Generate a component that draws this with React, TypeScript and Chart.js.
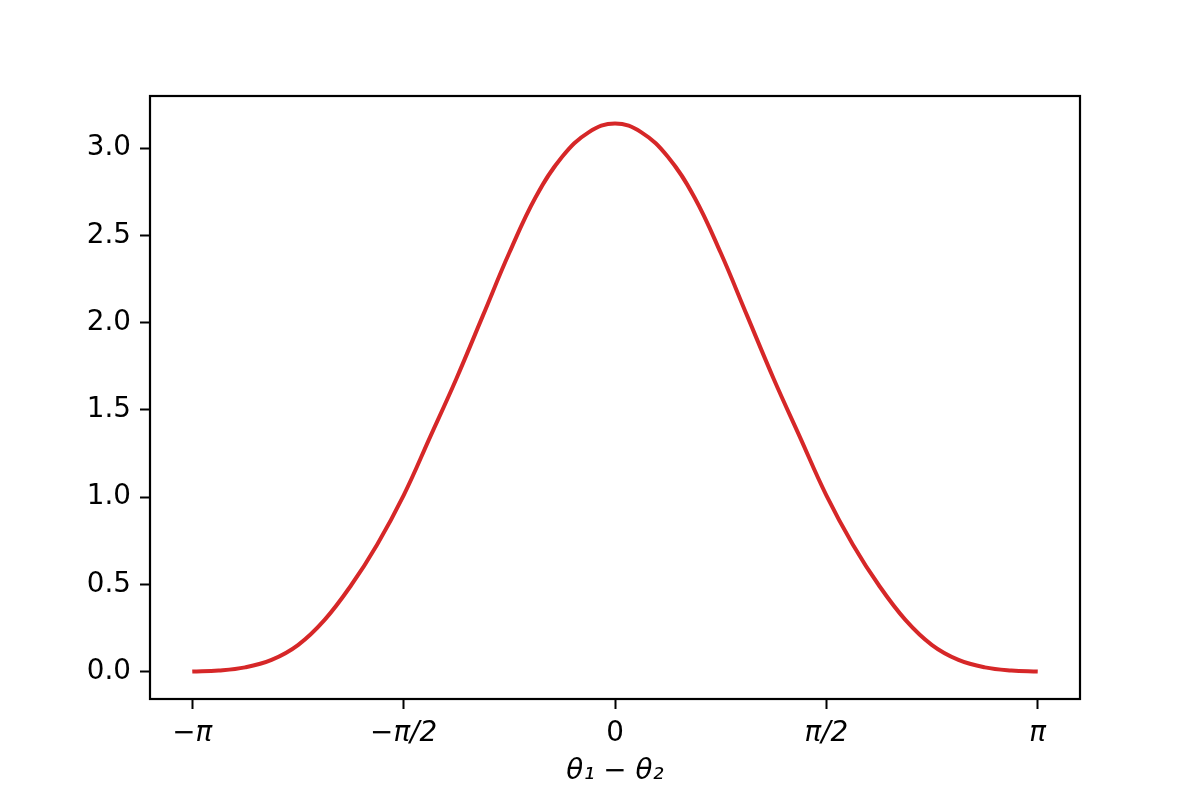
import React, { useEffect, useRef } from "react";
import { Chart, registerables } from "chart.js";

Chart.register(...registerables);

// Sample positions (radians) along θ1 − θ2
const xValues = [
  -3.1416, -2.9452, -2.7489, -2.5525, -2.3562, -2.1598, -1.9635, -1.7671,
  -1.5708, -1.3744, -1.1781, -0.9817, -0.7854, -0.589, -0.3927, -0.1963,
  0,
  0.1963, 0.3927, 0.589, 0.7854, 0.9817, 1.1781, 1.3744, 1.5708,
  1.7671, 1.9635, 2.1598, 2.3562, 2.5525, 2.7489, 2.9452, 3.1416,
];

// Curve values
const yValues = [
  0.0, 0.006, 0.024, 0.067, 0.152, 0.295, 0.492, 0.729,
  1.01, 1.344, 1.68, 2.04, 2.4, 2.72, 2.95, 3.09,
  3.1416,
  3.09, 2.95, 2.72, 2.4, 2.04, 1.68, 1.344, 1.01,
  0.729, 0.492, 0.295, 0.152, 0.067, 0.024, 0.006, 0.0,
];

const xTickValues = [-3.14159, -1.5708, 0, 1.5708, 3.14159];
const xTickLabels = ["−π", "−π/2", "0", "π/2", "π"];
const yTickValues = [0, 0.5, 1, 1.5, 2, 2.5, 3];
const yTickLabels = ["0.0", "0.5", "1.0", "1.5", "2.0", "2.5", "3.0"];
const xAxisTitle = "θ₁ − θ₂";

const FONT = "'DejaVu Sans', sans-serif";
const FONT_SIZE = 27.8;
const RED = "#d62728";

const framePlugin = {
  id: "frame",
  afterDraw(chart: any) {
    const { ctx, chartArea } = chart;
    ctx.save();
    ctx.strokeStyle = "#000";
    ctx.lineWidth = 2.2;
    ctx.strokeRect(
      chartArea.left,
      chartArea.top,
      chartArea.right - chartArea.left,
      chartArea.bottom - chartArea.top
    );
    ctx.restore();
  },
};

export default function App() {
  const canvasRef = useRef<HTMLCanvasElement | null>(null);

  useEffect(() => {
    const canvas = canvasRef.current;
    if (!canvas) return;
    const points = xValues.map((x, i) => ({ x, y: yValues[i] }));
    const chart = new Chart(canvas, {
      type: "line",
      data: {
        datasets: [
          {
            data: points,
            borderColor: RED,
            backgroundColor: RED,
            borderWidth: 4,
            pointRadius: 0,
            tension: 0.4,
            fill: false,
          },
        ],
      },
      plugins: [framePlugin],
      options: {
        responsive: false,
        animation: false,
        devicePixelRatio: 1,
        layout: { padding: { left: 0, top: 96, right: 120, bottom: 0 } },
        plugins: {
          legend: { display: false },
          tooltip: { enabled: false },
        },
        scales: {
          x: {
            type: "linear",
            min: -1.1 * Math.PI,
            max: 1.1 * Math.PI,
            afterBuildTicks: (scale: any) => {
              scale.ticks = xTickValues.map((v) => ({ value: v }));
            },
            afterFit: (scale: any) => {
              scale.height = 101;
            },
            border: { display: false },
            grid: {
              display: true,
              drawOnChartArea: false,
              drawTicks: true,
              tickLength: 10,
              tickWidth: 2,
              tickColor: "#000",
            },
            ticks: {
              padding: 8,
              color: "#000",
              maxRotation: 0,
              autoSkip: false,
              font: (ctx: any) => ({
                family: FONT,
                size: FONT_SIZE,
                style: ctx.index === 2 ? "normal" : "italic",
              }),
              callback: (_v: any, i: number) => xTickLabels[i],
            },
            title: {
              display: true,
              text: xAxisTitle,
              color: "#000",
              font: { family: FONT, size: FONT_SIZE, style: "italic" },
              padding: { top: 0, bottom: 12 },
            },
          },
          y: {
            type: "linear",
            min: -0.05 * Math.PI,
            max: 1.05 * Math.PI,
            afterBuildTicks: (scale: any) => {
              scale.ticks = yTickValues.map((v) => ({ value: v }));
            },
            afterFit: (scale: any) => {
              scale.width = 150;
            },
            border: { display: false },
            grid: {
              display: true,
              drawOnChartArea: false,
              drawTicks: true,
              tickLength: 10,
              tickWidth: 2,
              tickColor: "#000",
            },
            ticks: {
              padding: 9,
              color: "#000",
              autoSkip: false,
              font: { family: FONT, size: FONT_SIZE },
              callback: (_v: any, i: number) => yTickLabels[i],
            },
          },
        },
      },
    } as any);
    return () => chart.destroy();
  }, []);

  return (
    <div style={{ position: "absolute", left: 0, top: 0, width: 1200, height: 800, background: "#fff" }}>
      <canvas ref={canvasRef} width={1200} height={800} style={{ display: "block", width: 1200, height: 800 }} />
    </div>
  );
}
